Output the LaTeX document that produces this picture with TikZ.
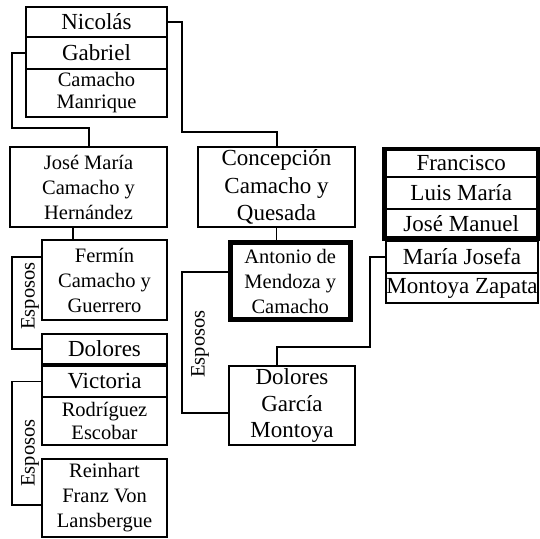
\documentclass[tikz,border=0pt]{standalone}
\usepackage{fontspec}
\setmainfont{Liberation Serif}
\usetikzlibrary{fit}
\tikzset{
  box/.style={draw, line width=1.5pt, inner sep=0pt, outer sep=0pt, align=center, anchor=north west},
  heavybox/.style={draw, line width=5pt, inner sep=0pt, outer sep=0pt, anchor=north west},
  bigname/.style={font=\fontsize{23}{27.5}\selectfont},
  smallname/.style={font=\fontsize{20.5}{25}\selectfont},
  link/.style={line width=1.5pt, line join=miter},
  couple/.style={rotate=90, font=\fontsize{20.5}{24}\selectfont, inner sep=0pt}
}
\begin{document}
\begin{tikzpicture}[x=1pt, y=-1pt]
\useasboundingbox[fill=white] (0,0) rectangle (540,538);

% Top family stack
\node[box, bigname, line width=1.8pt, minimum width=141pt, minimum height=30pt] (nico) at (26,7) {Nicolás};
\node[box, bigname, line width=1.8pt, minimum width=141pt, minimum height=32pt] (gabr) at (26,37) {Gabriel};
\node[box, font=\fontsize{20.5}{22}\selectfont, minimum width=141pt, minimum height=48pt] (camman) at (26,69) {Camacho\\Manrique};

% Left branch
\node[box, smallname, minimum width=157pt, minimum height=80pt] (jose) at (10,147) {José María\\Camacho y\\Hernández};
\node[box, smallname, minimum width=125pt, minimum height=80pt] (ferm) at (42,240) {Fermín\\Camacho y\\Guerrero};
\node[box, bigname, minimum width=125pt, minimum height=30pt] (dolo) at (42,334) {Dolores};
\node[box, bigname, line width=1.8pt, minimum width=125pt, minimum height=31pt] (vict) at (42,366) {Victoria};
\node[box, font=\fontsize{20.5}{23}\selectfont, minimum width=125pt, minimum height=48pt] (rodr) at (42,397) {Rodríguez\\Escobar};
\node[box, smallname, minimum width=125pt, minimum height=78pt] (rein) at (42,459) {Reinhart\\Franz Von\\Lansbergue};

% Middle branch
\node[box, bigname, minimum width=157pt, minimum height=80pt] (conc) at (198,147) {Concepción\\Camacho y\\Quesada};
\node[heavybox, minimum width=120.5pt, minimum height=77pt] (anto) at (230,242.5) {};
\node[smallname, align=center, inner sep=0pt] (antotxt) at (anto.center) {Antonio de\\Mendoza y\\Camacho};
\node[box, font=\fontsize{23}{26.5}\selectfont, minimum width=126pt, minimum height=79pt] (dolg) at (229,366) {Dolores\\García\\Montoya};

% Right stack
\node[box, bigname, line width=2.5pt, minimum width=153.5pt, minimum height=28pt] (fran) at (384.5,149) {Francisco};
\node[box, bigname, line width=2.5pt, minimum width=153.5pt, minimum height=32pt] (luis) at (384.5,177) {Luis María};
\node[box, bigname, line width=2.5pt, minimum width=153.5pt, minimum height=29.5pt] (josm) at (384.5,209) {José Manuel};
\node[fit=(fran)(josm), draw, line width=4.5pt, inner sep=0pt] (frgroup) {};
\node[box, bigname, minimum width=152pt, minimum height=32pt] (mjos) at (386,241) {María Josefa};
\node[box, bigname, line width=1.8pt, minimum width=152pt, minimum height=30pt] (mont) at (386,273) {Montoya Zapata};

% Descent lines
\draw[link] (gabr.west) -- (12,53) -- (12,128) -- (89,128) -- (89,147);
\draw[link] (nico.east) -- (182,22) -- (182,132) -- (277,132) -- (277,147);
\draw[link] ([xshift=-15.5pt]jose.south) -- ([xshift=-15.5pt]jose.south |- ferm.north);
\draw[link] (conc.south) -- (conc.south |- anto.north);
\draw[link] (mjos.west) -- (370,257) -- (370,347) -- (277,347) -- (277,366);

% Couples
\draw[link] ([yshift=-17pt]ferm.north west) -- (12,257) -- (12,349) -- (dolo.west);
\node[couple] (esp1) at (30,296) {Esposos};
\draw[link] (vict.west) -- (12,381.5) -- (12,505) -- ([yshift=-46pt]rein.north west);
\node[couple] (esp2) at (30,453) {Esposos};
\draw[link] ([yshift=-29.5pt]anto.north west) -- (182,272) -- (182,413) -- ([yshift=-47pt]dolg.north west);
\node[couple] (esp3) at (200,344) {Esposos};
\end{tikzpicture}
\end{document}
